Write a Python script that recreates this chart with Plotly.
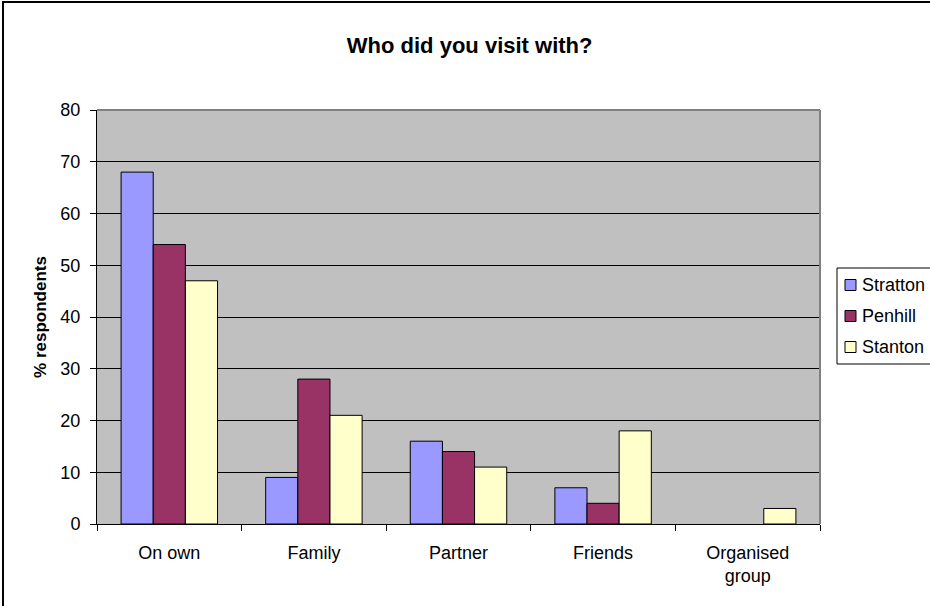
import plotly.graph_objects as go

categories = ["On own", "Family", "Partner", "Friends", "Organised<br>group"]
stratton = [68, 9, 16, 7, 0]
penhill = [54, 28, 14, 4, 0]
stanton = [47, 21, 11, 18, 3]
series_names = ["Stratton", "Penhill", "Stanton"]
colors = ["#9999FF", "#993366", "#FFFFCC"]
y_ticks = [0, 10, 20, 30, 40, 50, 60, 70, 80]

FONT = "Liberation Sans, Arial, sans-serif"

W, H = 930, 606
L, R, T, B = 97, 110, 110, 82
pw, ph = W - L - R, H - T - B


def px(x):
    return (x - L) / pw


def py(y):
    return (H - B - y) / ph


fig = go.Figure()
for name, vals, col in zip(series_names, [stratton, penhill, stanton], colors):
    fig.add_trace(go.Bar(
        x=categories, y=vals, name=name,
        marker=dict(color=col,
                    line=dict(color="black", width=[1 if v else 0 for v in vals])),
        showlegend=False,
    ))

fig.update_layout(
    width=W, height=H,
    margin=dict(l=L, r=R, t=T, b=B),
    paper_bgcolor="white",
    plot_bgcolor="#C0C0C0",
    barmode="group",
    bargap=0.333,
    bargroupgap=0,
    font=dict(family=FONT, size=18, color="black"),
    title=dict(text="<b>Who did you visit with?</b>", x=0.505, xanchor="center",
               y=1 - 45 / H, yanchor="middle", font=dict(size=22, family=FONT)),
)
fig.update_yaxes(
    range=[0, 80], tickvals=y_ticks, showgrid=True, gridcolor="black", gridwidth=1,
    ticks="outside", ticklen=6, tickcolor="black", showline=True, linecolor="black",
    linewidth=1, zeroline=False, tickfont=dict(size=18), ticklabelstandoff=6,
    title=dict(text="<b>% respondents</b>", font=dict(size=17), standoff=9),
)
fig.update_xaxes(
    ticks="outside", tickson="boundaries", ticklen=6, tickcolor="black",
    showline=True, linecolor="black", linewidth=1, tickfont=dict(size=18),
    ticklabelstandoff=12,
)
# plot area border (gray top/right)
fig.add_shape(type="line", xref="paper", yref="paper", x0=0, x1=1, y0=1, y1=1,
              line=dict(color="#808080", width=2))
fig.add_shape(type="line", xref="paper", yref="paper", x0=1, x1=1, y0=0, y1=1,
              line=dict(color="#808080", width=2))
# outer chart border
fig.add_shape(type="rect", xref="paper", yref="paper",
              x0=px(3), x1=px(W + 20), y0=py(H + 20), y1=py(2),
              line=dict(color="black", width=2))

# legend box
fig.add_shape(type="rect", xref="paper", yref="paper",
              x0=px(837), x1=px(W + 20), y0=py(364), y1=py(268),
              line=dict(color="black", width=1), fillcolor="white")
row_y = [285, 316, 347]
for name, col, yy in zip(series_names, colors, row_y):
    fig.add_shape(type="rect", xref="paper", yref="paper",
                  x0=px(845), x1=px(856), y0=py(yy + 5.5), y1=py(yy - 5.5),
                  line=dict(color="black", width=1), fillcolor=col)
    fig.add_annotation(text=name, xref="paper", yref="paper", x=px(860), y=py(yy),
                       xanchor="left", yanchor="middle", showarrow=False,
                       font=dict(size=18, family=FONT))

fig.write_html("out.html", config={"displayModeBar": False},
               post_script="document.body.style.margin='0px';")
